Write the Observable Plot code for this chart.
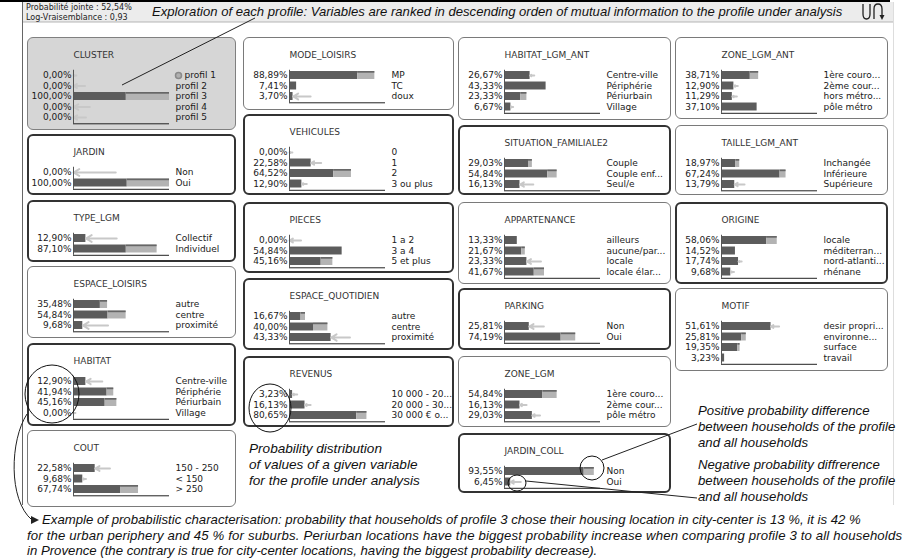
<!DOCTYPE html>
<html><head><meta charset="utf-8">
<script src="https://cdn.jsdelivr.net/npm/d3@7"></script>
<script src="https://cdn.jsdelivr.net/npm/@observablehq/plot@0.6"></script>
<style>
body{margin:0;background:#fff;}
#root{position:relative;width:907px;height:559px;overflow:hidden;font-family:"DejaVu Sans",sans-serif;}
.frame{position:absolute;box-sizing:border-box;border-radius:6px;}
.plotwrap{position:absolute;}
.ov{position:absolute;left:0;top:0;}
</style></head><body><div id="root"></div>
<script>
// ---------- data (profile probability p, all-households probability prior) ----------
const clusterCats = ["profil 1","profil 2","profil 3","profil 4","profil 5"];
const clusterP = [0,0,100,0,0];
const clusterPrior = [3,12,55,17,13];

const jardinCats = ["Non","Oui"];
const jardinP = [0,100];
const jardinPrior = [44,56];

const typeLgmCats = ["Collectif","Individuel"];
const typeLgmP = [12.90,87.10];
const typeLgmPrior = [45,55];

const espaceLoisirsCats = ["autre","centre","proximité"];
const espaceLoisirsP = [35.48,54.84,9.68];
const espaceLoisirsPrior = [28,36,36];

const habitatCats = ["Centre-ville","Périphérie","Périurbain","Village"];
const habitatP = [12.90,41.94,45.16,0];
const habitatPrior = [30,35,33,2];

const coutCats = ["150 - 250","< 150","> 250"];
const coutP = [22.58,9.68,67.74];
const coutPrior = [38,13,49];

const modeLoisirsCats = ["MP","TC","doux"];
const modeLoisirsP = [88.89,7.41,3.70];
const modeLoisirsPrior = [71,7,22];

const vehiculesCats = ["0","1","2","3 ou plus"];
const vehiculesP = [0,22.58,64.52,12.90];
const vehiculesPrior = [3,33,46,18];

const piecesCats = ["1 a 2","3 a 4","5 et plus"];
const piecesP = [0,54.84,45.16];
const piecesPrior = [12,55,33];

const espaceQuotCats = ["autre","centre","proximité"];
const espaceQuotP = [16.67,40.00,43.33];
const espaceQuotPrior = [12,25,63];

const revenusCats = ["10 000 - 20...","20 000 - 30...","30 000 € o..."];
const revenusP = [3.23,16.13,80.65];
const revenusPrior = [8,22,70];

const habitatAntCats = ["Centre-ville","Périphérie","Périurbain","Village"];
const habitatAntP = [26.67,43.33,23.33,6.67];
const habitatAntPrior = [31,43,17,9];

const situationCats = ["Couple","Couple enf...","Seul/e"];
const situationP = [29.03,54.84,16.13];
const situationPrior = [25,45,30];

const appartenanceCats = ["ailleurs","aucune/par...","locale","locale élar..."];
const appartenanceP = [13.33,21.67,23.33,41.67];
const appartenancePrior = [13,18,38,31];

const parkingCats = ["Non","Oui"];
const parkingP = [25.81,74.19];
const parkingPrior = [41,59];

const zoneLgmCats = ["1ère couro...","2ème cour...","pôle métro"];
const zoneLgmP = [54.84,16.13,29.03];
const zoneLgmPrior = [40,23,37];

const jardinCollCats = ["Non","Oui"];
const jardinCollP = [93.55,6.45];
const jardinCollPrior = [83,17];

const zoneAntCats = ["1ère couro...","2ème cour...","hors métro...","pôle métro"];
const zoneAntP = [38.71,12.90,11.29,37.10];
const zoneAntPrior = [30,17,16,37];

const tailleAntCats = ["Inchangée","Inférieure","Supérieure"];
const tailleAntP = [18.97,67.24,13.79];
const tailleAntPrior = [15,61,24];

const origineCats = ["locale","méditerran...","nord-atlanti...","rhénane"];
const origineP = [58.06,14.52,17.74,9.68];
const originePrior = [47,15,21,13];

const motifCats = ["desir propri...","environne...","surface","travail"];
const motifP = [51.61,25.81,19.35,3.23];
const motifPrior = [60,21,17,3];

// ---------- layout (panel boxes) ----------
const panels = [
  {name:"CLUSTER", cats:clusterCats, p:clusterP, q:clusterPrior, x:27, y:37, w:209, h:93, kind:"gray"},
  {name:"JARDIN", cats:jardinCats, p:jardinP, q:jardinPrior, x:27, y:134, w:209, h:61, kind:"thick"},
  {name:"TYPE_LGM", cats:typeLgmCats, p:typeLgmP, q:typeLgmPrior, x:27, y:200, w:209, h:62, kind:"thick"},
  {name:"ESPACE_LOISIRS", cats:espaceLoisirsCats, p:espaceLoisirsP, q:espaceLoisirsPrior, x:27, y:266, w:209, h:72, kind:"normal"},
  {name:"HABITAT", cats:habitatCats, p:habitatP, q:habitatPrior, x:27, y:343, w:209, h:83, kind:"thick"},
  {name:"COUT", cats:coutCats, p:coutP, q:coutPrior, x:27, y:430, w:209, h:77, kind:"normal"},
  {name:"MODE_LOISIRS", cats:modeLoisirsCats, p:modeLoisirsP, q:modeLoisirsPrior, x:243, y:37, w:211, h:73, kind:"normal"},
  {name:"VEHICULES", cats:vehiculesCats, p:vehiculesP, q:vehiculesPrior, x:243, y:114, w:211, h:81, kind:"thick"},
  {name:"PIECES", cats:piecesCats, p:piecesP, q:piecesPrior, x:243, y:202, w:211, h:71, kind:"thick"},
  {name:"ESPACE_QUOTIDIEN", cats:espaceQuotCats, p:espaceQuotP, q:espaceQuotPrior, x:243, y:278, w:211, h:72, kind:"thick"},
  {name:"REVENUS", cats:revenusCats, p:revenusP, q:revenusPrior, x:243, y:356, w:211, h:71, kind:"thick"},
  {name:"HABITAT_LGM_ANT", cats:habitatAntCats, p:habitatAntP, q:habitatAntPrior, x:458, y:37, w:213, h:83, kind:"normal"},
  {name:"SITUATION_FAMILIALE2", cats:situationCats, p:situationP, q:situationPrior, x:458, y:125, w:213, h:70, kind:"thick"},
  {name:"APPARTENANCE", cats:appartenanceCats, p:appartenanceP, q:appartenancePrior, x:458, y:202, w:213, h:82, kind:"normal"},
  {name:"PARKING", cats:parkingCats, p:parkingP, q:parkingPrior, x:458, y:288, w:213, h:62, kind:"thick"},
  {name:"ZONE_LGM", cats:zoneLgmCats, p:zoneLgmP, q:zoneLgmPrior, x:458, y:356, w:213, h:71, kind:"normal"},
  {name:"JARDIN_COLL", cats:jardinCollCats, p:jardinCollP, q:jardinCollPrior, x:458, y:433, w:213, h:60, kind:"thick"},
  {name:"ZONE_LGM_ANT", cats:zoneAntCats, p:zoneAntP, q:zoneAntPrior, x:675, y:37, w:213, h:82, kind:"normal"},
  {name:"TAILLE_LGM_ANT", cats:tailleAntCats, p:tailleAntP, q:tailleAntPrior, x:675, y:125, w:213, h:70, kind:"normal"},
  {name:"ORIGINE", cats:origineCats, p:origineP, q:originePrior, x:675, y:202, w:213, h:82, kind:"thick"},
  {name:"MOTIF", cats:motifCats, p:motifP, q:motifPrior, x:675, y:288, w:213, h:83, kind:"normal"}
];

const root = document.getElementById("root");
const fmt = v => v.toFixed(2).replace(".", ",") + "%";
const NS = "http://www.w3.org/2000/svg";

// background layer
const bg = document.createElementNS(NS, "svg");
bg.setAttribute("class","ov"); bg.setAttribute("width",907); bg.setAttribute("height",559);
bg.innerHTML = `
<rect x="22" y="2" width="871" height="20" fill="#ececec"/>
<line x1="22" y1="22" x2="893" y2="22" stroke="#b5b5b5"/>
<line x1="0" y1="1" x2="890" y2="1" stroke="#000" stroke-width="2"/>
<line x1="22.5" y1="2" x2="22.5" y2="505" stroke="#666"/>
<line x1="893.5" y1="2" x2="893.5" y2="505" stroke="#ddd"/>
<text x="26" y="10" font-family="DejaVu Sans" font-size="8px" fill="#222">Probabilité jointe : 52,54%</text>
<text x="26" y="20" font-family="DejaVu Sans" font-size="8px" fill="#222">Log-Vraisemblance : 0,93</text>
<text x="152" y="16" font-family="Liberation Sans" font-style="italic" font-size="13.1px" fill="#111">Exploration of each profile: Variables are ranked in descending orden of mutual information to the profile under analysis</text>
<path d="M863,4 V14 Q863,19 866.5,19 Q870,19 870,14 V4" fill="none" stroke="#222" stroke-width="1.3"/>
<path d="M874,19 V9 Q874,4 878,4 Q882,4 882,9 V16" fill="none" stroke="#222" stroke-width="1.3"/>
<path d="M879.5,15 L882,20 L884.5,15 Z" fill="#222"/>
`;
root.appendChild(bg);

const X0 = 46, X1 = 142; // bar axis pixel span inside a panel

for (const P of panels) {
  const frame = document.createElement("div");
  frame.className = "frame";
  Object.assign(frame.style, {left:P.x+"px", top:P.y+"px", width:P.w+"px", height:P.h+"px"});
  if (P.kind === "gray") { frame.style.background = "#d6d6d6"; frame.style.border = "1.5px solid #808080"; }
  else if (P.kind === "thick") { frame.style.background = "#fff"; frame.style.border = "2.5px solid #333"; }
  else { frame.style.background = "#fff"; frame.style.border = "1.5px solid #7a7a7a"; }
  root.appendChild(frame);

  const rows = P.cats.map((c,i)=>({c, i, p:P.p[i], q:P.q[i]}));
  const n = rows.length;
  const up = rows.filter(r => r.p - r.q > 0.8);
  const down = rows.filter(r => r.q - r.p > 0.8);
  const isCluster = P.name === "CLUSTER";
  const labelRows = isCluster ? rows.slice(1) : rows;

  const marks = [
    Plot.rect(rows, {x1: 0, x2: r => (r.p - r.q > 0.8 ? r.q : r.p), y1: r => r.i - 0.38, y2: r => r.i + 0.38, fill: "#5c5c5c"}),
    Plot.rect(up, {x1: "q", x2: "p", y1: r => r.i - 0.38, y2: r => r.i + 0.38, fill: "#b3b3b3"}),
    Plot.rect(up, {x1: "q", x2: "p", y1: r => r.i - 0.38, y2: r => r.i - 0.22, fill: "#666"}),
    Plot.arrow(down, {x1: "q", x2: "p", y1: "i", y2: "i", stroke: "#c8c8c8", strokeWidth: 2, headLength: 5}),
    Plot.ruleX([0], {y1: -0.5, y2: n - 1 + 0.6, stroke: "#555"}),
    Plot.ruleY([n - 1 + 0.6], {x1: 0, x2: 100, stroke: "#222"}),
    Plot.text(rows, {x: 0, y: "i", dx: -2, text: r => fmt(r.p), textAnchor: "end", fill: "#1a1a1a"}),
    Plot.text(labelRows, {x: 100, y: "i", dx: 6, text: "c", textAnchor: "start", fill: "#1a1a1a"}),
    Plot.text([P.name], {x: 0, y: -1.9, text: d => d, textAnchor: "start", fill: "#333"})
  ];
  if (isCluster) {
    marks.push(Plot.dot(rows.slice(0,1), {x: 100, y: "i", dx: 9, r: 3, fill: "#b0b0b0", stroke: "#8a8a8a"}));
    marks.push(Plot.text(rows.slice(0,1), {x: 100, y: "i", dx: 15, text: "c", textAnchor: "start", fill: "#1a1a1a"}));
  }

  const chart = Plot.plot({
    width: P.w, height: P.h, margin: 0,
    x: {type: "linear", domain: [0, 100], range: [X0, X1], axis: null},
    y: {type: "linear", domain: [0, 1], range: [38, 48.5], axis: null},
    style: {background: "transparent", fontFamily: "DejaVu Sans", fontSize: "9px", overflow: "visible"},
    marks
  });
  const wrap = document.createElement("div");
  wrap.className = "plotwrap";
  Object.assign(wrap.style, {left:P.x+"px", top:P.y+"px", width:P.w+"px", height:P.h+"px"});
  wrap.appendChild(chart);
  root.appendChild(wrap);
}

// annotation layer
const ann = document.createElementNS(NS, "svg");
ann.setAttribute("class","ov"); ann.setAttribute("width",907); ann.setAttribute("height",559);
const it = 'font-family="Liberation Sans" font-style="italic" fill="#111"';
ann.innerHTML = `
<line x1="122" y1="85" x2="255" y2="18" stroke="#222" stroke-width="1"/>
<ellipse cx="52" cy="394" rx="27" ry="29" fill="none" stroke="#111" stroke-width="1"/>
<ellipse cx="270" cy="408" rx="21" ry="24" fill="none" stroke="#111" stroke-width="1"/>
<path d="M27,414 C10,440 8,500 32,520" fill="none" stroke="#222" stroke-width="1"/>
<path d="M31,516 L39,520 L31,524 Z" fill="#222"/>
<circle cx="592" cy="468" r="12" fill="none" stroke="#111" stroke-width="1"/>
<line x1="602" y1="460" x2="697" y2="424" stroke="#222" stroke-width="1"/>
<ellipse cx="517" cy="483" rx="9" ry="8" fill="none" stroke="#111" stroke-width="1"/>
<line x1="526" y1="481" x2="697" y2="498" stroke="#222" stroke-width="1"/>
<g ${it} font-size="13.6px">
<text x="249" y="453">Probability distribution</text>
<text x="249" y="469">of values of a given variable</text>
<text x="249" y="485">for the profile under analysis</text>
</g>
<g ${it} font-size="13.2px">
<text x="698" y="415">Positive probability difference</text>
<text x="698" y="431">between households of the profile</text>
<text x="698" y="447">and all households</text>
<text x="698" y="469">Negative probability diffrerence</text>
<text x="698" y="485">between households of the profile</text>
<text x="698" y="501">and all households</text>
</g>
<g ${it} font-size="13.2px">
<text x="42" y="524">Example of probabilistic characterisation: probability that households of profile 3 chose their housing location in city-center is 13 %, it is 42 %</text>
<text x="27" y="540" textLength="875" lengthAdjust="spacing">for the urban periphery and 45 % for suburbs. Periurban locations have the biggest probability increase when comparing profile 3 to all households</text>
<text x="27" y="555">in Provence (the contrary is true for city-center locations, having the biggest probability decrease).</text>
</g>
`;
root.appendChild(ann);
</script></body></html>
